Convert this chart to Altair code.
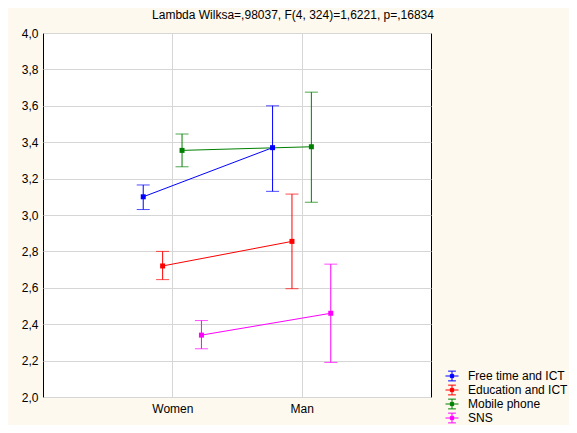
import altair as alt
import pandas as pd

series = ["Free time and ICT", "Education and ICT", "Mobile phone", "SNS"]
groups = ["Women", "Man"]
group_pos = [1, 2]
means = {
    "Free time and ICT": [3.10, 3.37],
    "Education and ICT": [2.72, 2.855],
    "Mobile phone": [3.355, 3.375],
    "SNS": [2.34, 2.46],
}
lower = {
    "Free time and ICT": [3.03, 3.13],
    "Education and ICT": [2.645, 2.595],
    "Mobile phone": [3.265, 3.07],
    "SNS": [2.265, 2.19],
}
upper = {
    "Free time and ICT": [3.165, 3.60],
    "Education and ICT": [2.80, 3.115],
    "Mobile phone": [3.445, 3.675],
    "SNS": [2.42, 2.73],
}
y_ticks = [2.0, 2.2, 2.4, 2.6, 2.8, 3.0, 3.2, 3.4, 3.6, 3.8, 4.0]
colors = ["#0000FF", "#FF0000", "#008000", "#FF00FF"]
dodge = {"Free time and ICT": -0.225, "Education and ICT": -0.075, "Mobile phone": 0.075, "SNS": 0.225}

rows = []
for s in series:
    for i, g in enumerate(groups):
        rows.append({"series": s, "group": g, "gpos": group_pos[i],
                     "mean": means[s][i], "lo": lower[s][i], "hi": upper[s][i]})
df = pd.DataFrame(rows)

expr = "datum.gpos + (" + " : ".join(
    [f"datum.series == '{s}' ? {dodge[s]}" for s in series]) + " : 0)"

base = alt.Chart(df).transform_calculate(xp=expr)

x_scale = alt.Scale(domain=[0, 3], nice=False)
x_axis = alt.Axis(values=group_pos, grid=True, ticks=False, domain=False,
                  labelExpr="datum.value == 1 ? 'Women' : datum.value == 2 ? 'Man' : ''",
                  labelPadding=6, labelFontSize=12, labelColor="#000000",
                  labelFont="Liberation Sans", gridColor="#D6D6D6")
y_scale = alt.Scale(domain=[2, 4], nice=False, zero=False)
y_axis = alt.Axis(values=y_ticks, grid=True, ticks=False, domain=False, labelOverlap=False,
                  labelExpr="replace(format(datum.value, '.1f'), '.', ',')",
                  labelPadding=5, labelFontSize=12, labelColor="#000000",
                  labelFont="Liberation Sans", gridColor="#D6D6D6")


def X():
    return alt.X("xp:Q", scale=x_scale, title=None, axis=x_axis)


def Y(field):
    return alt.Y(f"{field}:Q", scale=y_scale, title=None, axis=y_axis)


color_scale = alt.Scale(domain=series, range=colors)

legend = alt.Legend(
    title=None, orient="none", legendX=402, legendY=336,
    symbolType="M-1,0H1M0,-0.75V0.75M-0.6,-0.75H0.6M-0.6,0.75H0.6M-0.25,-0.25H0.25V0.25H-0.25Z",
    symbolSize=169, symbolStrokeWidth=1, labelFontSize=12, labelFont="Liberation Sans",
    labelColor="#000000", rowPadding=0, labelOffset=9, symbolFillColor="transparent",
    labelLimit=200)

lines = base.mark_line(strokeWidth=1).encode(
    x=X(), y=Y("mean"), color=alt.Color("series:N", scale=color_scale, legend=legend),
    detail="series:N", order="gpos:Q")

rules = base.mark_rule(strokeWidth=1).encode(
    x=X(), y=Y("lo"), y2="hi:Q",
    color=alt.Color("series:N", scale=color_scale, legend=None))

caps_lo = base.mark_tick(orient="horizontal", size=13, thickness=1).encode(
    x=X(), y=Y("lo"),
    color=alt.Color("series:N", scale=color_scale, legend=None))
caps_hi = base.mark_tick(orient="horizontal", size=13, thickness=1).encode(
    x=X(), y=Y("hi"),
    color=alt.Color("series:N", scale=color_scale, legend=None))

points = base.mark_square(size=25, opacity=1).encode(
    x=X(), y=Y("mean"),
    fill=alt.Fill("series:N", scale=color_scale, legend=None))

chart = alt.layer(lines, rules, caps_lo, caps_hi, points).properties(
    width=388, height=364,
    title=alt.TitleParams("Lambda Wilksa=,98037, F(4, 324)=1,6221, p=,16834",
                          fontSize=12, fontWeight="normal", font="Liberation Sans",
                          color="#000000", dx=56, offset=5, anchor="middle"),
    autosize=alt.AutoSizeParams(type="none"),
    padding={"left": 35, "top": 25, "right": 138, "bottom": 28},
    background="#FDF9EE",
).configure_view(stroke="#000000", strokeWidth=1, fill="#FFFFFF")

chart.save("out.html", embed_options={"renderer": "svg", "actions": False})
